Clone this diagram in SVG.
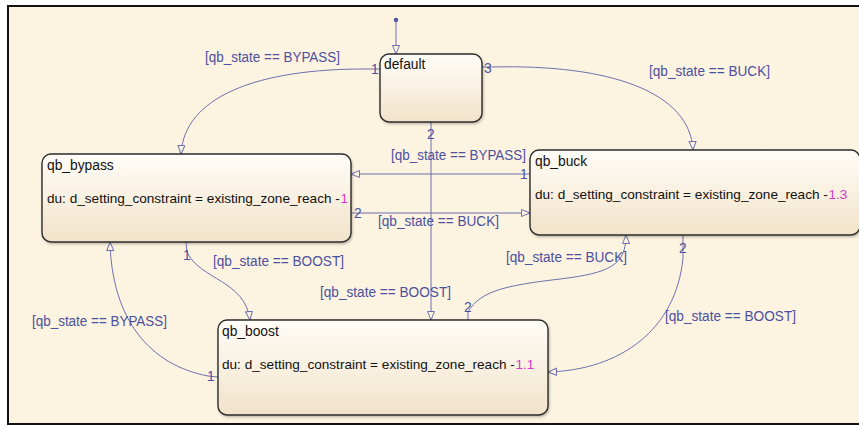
<svg xmlns="http://www.w3.org/2000/svg" width="859" height="426" viewBox="0 0 859 426">
<defs>
<linearGradient id="ng" x1="0" y1="0" x2="0" y2="1">
<stop offset="0" stop-color="#FFFDF8"/>
<stop offset="1" stop-color="#F2E3C9"/>
</linearGradient>
<filter id="sh" x="-5%" y="-5%" width="110%" height="115%">
<feDropShadow dx="1" dy="1.5" stdDeviation="1" flood-color="#000" flood-opacity="0.25"/>
</filter>
<marker id="ah" markerUnits="userSpaceOnUse" markerWidth="12" markerHeight="10" refX="9" refY="4" orient="auto">
<path d="M0.5,0.5 L9,4 L0.5,7.5 Z" fill="#FDF3E1" stroke="#6D71AD" stroke-width="1"/>
</marker>
</defs>
<style>
.node rect{fill:url(#ng);stroke:#2B2B2B;stroke-width:1.4;filter:url(#sh)}
.nt{font-family:"Liberation Sans",Arial,sans-serif;font-size:13.8px;fill:#111}
.du{font-family:"Liberation Sans",Arial,sans-serif;font-size:13.6px;fill:#111}
.num{font-family:"Liberation Sans",Arial,sans-serif;font-size:13.6px;fill:#D23CC8}
.c{fill:none;stroke:#6D71AD;stroke-width:1}
.lb{font-family:"Liberation Sans",Arial,sans-serif;font-size:13.8px;fill:#4C50A0}
</style>
<rect x="0" y="0" width="859" height="426" fill="#FFFFFF"/>
<rect x="8" y="6" width="860" height="418" fill="#FDF3E1" stroke="#111" stroke-width="2"/>

<g id="connectors">
<circle cx="396" cy="20" r="2.2" fill="#4C50A0"/>
<path class="c" d="M396,20 L396,54" marker-end="url(#ah)"/>
<path class="c" d="M380,69 L370,69 C255,68 184,98 181,154" marker-end="url(#ah)"/>
<path class="c" d="M482,67 L492,67 C610,64 690,92 693,150" marker-end="url(#ah)"/>
<path class="c" d="M431,122 L431,320" marker-end="url(#ah)"/>
<path class="c" d="M530,174 L351,174" marker-end="url(#ah)"/>
<path class="c" d="M351,213 L530,213" marker-end="url(#ah)"/>
<path class="c" d="M186,242 L187,252 C200,280 245,280 250,320" marker-end="url(#ah)"/>
<path class="c" d="M468,320 L468,312 C480,290 510,285 560,279 C610,273 626,265 626,235" marker-end="url(#ah)"/>
<path class="c" d="M683,235 L683,258 C676,330 620,370 548,372" marker-end="url(#ah)"/>
<path class="c" d="M218,377 L208,376 C150,365 112,320 110,242" marker-end="url(#ah)"/>

<text class="lb" x="205" y="62" textLength="135" lengthAdjust="spacingAndGlyphs">[qb_state == BYPASS]</text>
<text class="lb" x="649" y="76" textLength="121" lengthAdjust="spacingAndGlyphs">[qb_state == BUCK]</text>
<text class="lb" x="391" y="160" textLength="135" lengthAdjust="spacingAndGlyphs">[qb_state == BYPASS]</text>
<text class="lb" x="378" y="226" textLength="121" lengthAdjust="spacingAndGlyphs">[qb_state == BUCK]</text>
<text class="lb" x="213" y="266" textLength="131" lengthAdjust="spacingAndGlyphs">[qb_state == BOOST]</text>
<text class="lb" x="320" y="297" textLength="131" lengthAdjust="spacingAndGlyphs">[qb_state == BOOST]</text>
<text class="lb" x="506" y="262" textLength="121" lengthAdjust="spacingAndGlyphs">[qb_state == BUCK]</text>
<text class="lb" x="665" y="321" textLength="131" lengthAdjust="spacingAndGlyphs">[qb_state == BOOST]</text>
<text class="lb" x="32" y="326" textLength="135" lengthAdjust="spacingAndGlyphs">[qb_state == BYPASS]</text>

<text class="lb" x="371" y="74">1</text>
<text class="lb" x="484" y="73">3</text>
<text class="lb" x="427" y="139">2</text>
<text class="lb" x="520" y="179">1</text>
<text class="lb" x="354" y="218">2</text>
<text class="lb" x="183" y="260">1</text>
<text class="lb" x="464" y="312">2</text>
<text class="lb" x="679" y="253">2</text>
<text class="lb" x="207" y="381">1</text>
</g>

<g id="default" class="node">
<rect x="380" y="54" width="102" height="68" rx="9"/>
<text class="nt" x="384" y="69">default</text>
</g>
<g id="qb_bypass" class="node">
<rect x="42" y="154" width="309" height="88" rx="9"/>
<text class="nt" x="47" y="170">qb_bypass</text>
<text class="du" x="47" y="203">du: d_setting_constraint = existing_zone_reach -</text>
<text class="num" x="340.5" y="203">1</text>
</g>
<g id="qb_buck" class="node">
<rect x="530" y="150" width="330" height="85" rx="9"/>
<text class="nt" x="535" y="166">qb_buck</text>
<text class="du" x="535" y="199">du: d_setting_constraint = existing_zone_reach -</text>
<text class="num" x="828.5" y="199">1.3</text>
</g>
<g id="qb_boost" class="node">
<rect x="218" y="320" width="330" height="95" rx="9"/>
<text class="nt" x="222" y="336">qb_boost</text>
<text class="du" x="222" y="369">du: d_setting_constraint = existing_zone_reach -</text>
<text class="num" x="515.5" y="369">1.1</text>
</g>
</svg>
